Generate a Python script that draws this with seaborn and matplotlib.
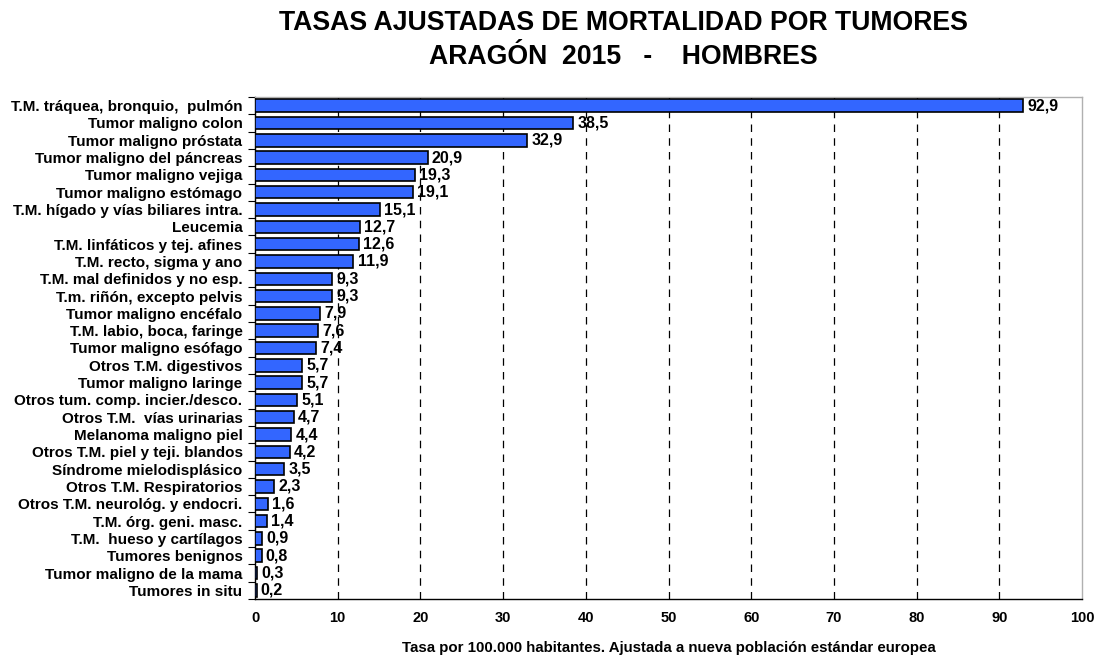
import matplotlib
matplotlib.use("Agg")
import matplotlib.pyplot as plt
import seaborn as sns
import pandas as pd
from matplotlib.ticker import FixedLocator

categories = [
    "T.M. tráquea, bronquio,  pulmón",
    "Tumor maligno colon",
    "Tumor maligno próstata",
    "Tumor maligno del páncreas",
    "Tumor maligno vejiga",
    "Tumor maligno estómago",
    "T.M. hígado y vías biliares intra.",
    "Leucemia",
    "T.M. linfáticos y tej. afines",
    "T.M. recto, sigma y ano",
    "T.M. mal definidos y no esp.",
    "T.m. riñón, excepto pelvis",
    "Tumor maligno encéfalo",
    "T.M. labio, boca, faringe",
    "Tumor maligno esófago",
    "Otros T.M. digestivos",
    "Tumor maligno laringe",
    "Otros tum. comp. incier./desco.",
    "Otros T.M.  vías urinarias",
    "Melanoma maligno piel",
    "Otros T.M. piel y teji. blandos",
    "Síndrome mielodisplásico",
    "Otros T.M. Respiratorios",
    "Otros T.M. neurológ. y endocri.",
    "T.M. órg. geni. masc.",
    "T.M.  hueso y cartílagos",
    "Tumores benignos",
    "Tumor maligno de la mama",
    "Tumores in situ",
]
values = [92.9, 38.5, 32.9, 20.9, 19.3, 19.1, 15.1, 12.7, 12.6, 11.9, 9.3, 9.3,
          7.9, 7.6, 7.4, 5.7, 5.7, 5.1, 4.7, 4.4, 4.2, 3.5, 2.3, 1.6, 1.4, 0.9,
          0.8, 0.3, 0.2]
xticks = [0, 10, 20, 30, 40, 50, 60, 70, 80, 90, 100]

df = pd.DataFrame({"cat": categories, "val": values})

sns.set_theme(style="white")
plt.rcParams["font.family"] = ["Liberation Sans", "DejaVu Sans"]
for k in ["text.color", "axes.labelcolor", "xtick.color", "ytick.color"]:
    plt.rcParams[k] = "black"

fig = plt.figure(figsize=(10.99, 6.55), dpi=100)
ax = fig.add_axes([255/1099, 1-599/655, (1082-255)/1099, (599-97)/655])

sns.barplot(data=df, x="val", y="cat", orient="h", color="#3366FF",
            saturation=1, width=0.72, edgecolor="black", linewidth=1.2, ax=ax, zorder=3)

n = len(categories)
ax.set_xlim(0, 100)
ax.set_ylim(n - 0.5, -0.5)
ax.set_xticks(xticks)
ax.set_xticklabels([str(t) for t in xticks], fontsize=10.5, fontweight="bold")
ax.tick_params(axis="x", pad=6, length=6, direction="inout", width=0.8, colors="black")
ax.set_yticks(range(n))
ax.set_yticklabels(categories, fontsize=11, fontweight="bold")
ax.tick_params(axis="y", length=0, pad=9)
ax.yaxis.set_minor_locator(FixedLocator([i - 0.5 for i in range(n + 1)]))
ax.tick_params(axis="y", which="minor", length=5, direction="out", width=0.8, color="black", left=True)
ax.set_xlabel("Tasa por 100.000 habitantes. Ajustada a nueva población estándar europea",
              fontsize=10.8, fontweight="bold", labelpad=11)
ax.set_ylabel("")

for x in xticks[1:-1]:
    ax.axvline(x, color="black", linestyle=(0, (6, 5)), linewidth=0.9, zorder=1)

for sp in ["left", "bottom"]:
    ax.spines[sp].set_color("black")
    ax.spines[sp].set_linewidth(1.0)
for sp in ["top", "right"]:
    ax.spines[sp].set_color("#b0b0b0")
    ax.spines[sp].set_linewidth(1.0)

for i, v in enumerate(values):
    ax.text(v + 0.5, i, f"{v:.1f}".replace(".", ","), va="center", ha="left",
            fontsize=11.5, fontweight="bold", color="black", zorder=4)

fig.text(623/1099, 1-23/655, "TASAS AJUSTADAS DE MORTALIDAD POR TUMORES",
         ha="center", va="center", fontsize=19.2, fontweight="bold")
fig.text(623/1099, 1-57/655, "ARAGÓN  2015   -    HOMBRES",
         ha="center", va="center", fontsize=19.2, fontweight="bold")

fig.savefig("out.png", dpi=100, facecolor="white")
